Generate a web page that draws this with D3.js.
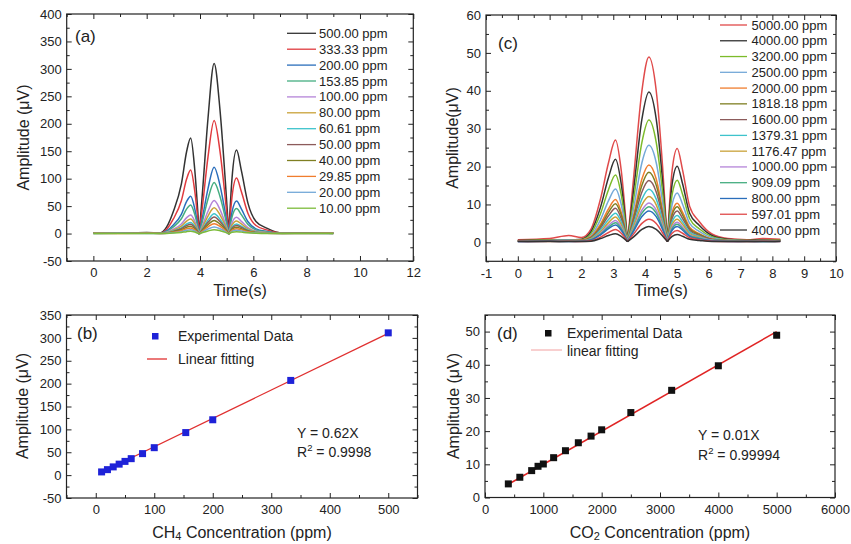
<!DOCTYPE html>
<html>
<head>
<meta charset="utf-8">
<script src="https://cdn.jsdelivr.net/npm/d3@7"></script>
<style>
  body { margin: 0; background: #fff; }
  svg { font-family: "Liberation Sans", Arial, sans-serif; }
</style>
</head>
<body>
<script>
// ---------- (a) CH4 time traces ----------
const TIME_A = [0, 1, 2, 2.5, 2.75, 3.0, 3.3, 3.5, 3.65, 3.8, 3.97, 4.1, 4.3, 4.53, 4.75, 4.95, 5.08, 5.2, 5.37, 5.55, 5.8, 6.1, 6.5, 7.1, 8, 9];
const NULLS_A = [3.97, 5.08];
const LABELS_A = ["500.00 ppm", "333.33 ppm", "200.00 ppm", "153.85 ppm", "100.00 ppm", "80.00 ppm",
                  "60.61 ppm", "50.00 ppm", "40.00 ppm", "29.85 ppm", "20.00 ppm", "10.00 ppm"];
const COLORS_A = ["#333333", "#e03a3e", "#2a6ebb", "#45ad80", "#b484d8", "#c9a238",
                  "#3ec3cc", "#8c5b5b", "#7f7f22", "#f07d2e", "#74a9d8", "#7cbb3a"];
const TRACE_A = [
  [1, 1, 2, 1, 12, 40, 90, 150, 174, 118, -1, 80, 210, 310, 225, 95, -1, 100, 152, 115, 55, 22, 10, 1, 1, 1],
  [1, 1.5, 1.5, 1, 8, 26.6, 59.9, 99.8, 115.7, 78.5, -1, 53.2, 139.7, 206, 149.6, 63.2, -1, 66.5, 101.1, 76.5, 36.6, 14.6, 6.7, 1, 0.5, 1],
  [0.5, 1, 1, 0.5, 4.7, 15.6, 35.1, 58.5, 67.9, 46, -1, 31.2, 81.9, 121, 87.8, 37.1, -1, 39, 59.3, 44.9, 21.5, 8.6, 3.9, 0.5, 1, 0.5],
  [0.8, 0.5, 1, 0.8, 3.6, 12, 27, 45, 52.2, 35.4, -1, 24, 63, 93, 67.5, 28.5, -1, 30, 45.6, 34.5, 16.5, 6.6, 3, 0.5, 0.8, 0.5],
  [0.5, 0.8, 0.6, 0.5, 2.3, 7.8, 17.5, 29.1, 33.8, 22.9, -1, 15.5, 40.7, 60, 43.7, 18.4, -1, 19.4, 29.5, 22.3, 10.7, 4.3, 1.9, 0.5, 0.6, 0.5],
  [0.6, 0.5, 0.8, 0.5, 1.8, 6.1, 13.7, 22.8, 26.4, 17.9, -1, 12.2, 31.9, 47, 34.2, 14.4, -1, 15.2, 23.1, 17.5, 8.4, 3.3, 1.5, 0.4, 0.6, 0.4],
  [0.4, 0.6, 0.5, 0.4, 1.4, 4.6, 10.4, 17.4, 20.2, 13.7, -1, 9.3, 24.4, 36, 26.1, 11, -1, 11.6, 17.6, 13.3, 6.4, 2.6, 1.2, 0.4, 0.5, 0.4],
  [0.5, 0.4, 0.6, 0.4, 1.2, 3.9, 8.7, 14.6, 16.9, 11.4, -1, 7.8, 20.4, 30, 21.8, 9.2, -1, 9.7, 14.7, 11.2, 5.3, 2.1, 1, 0.4, 0.5, 0.3],
  [0.3, 0.5, 0.4, 0.3, 0.9, 3.1, 6.9, 11.6, 13.4, 9.1, -1, 6.2, 16.2, 24, 17.3, 7.3, -1, 7.7, 11.7, 8.9, 4.2, 1.7, 0.8, 0.3, 0.4, 0.3],
  [0.4, 0.3, 0.5, 0.3, 0.7, 2.3, 5.2, 8.7, 10.1, 6.8, -1, 4.6, 12.2, 18, 13.1, 5.5, -1, 5.8, 8.8, 6.7, 3.2, 1.3, 0.6, 0.3, 0.3, 0.4],
  [0.3, 0.4, 0.3, 0.2, 0.5, 1.6, 3.5, 5.9, 6.8, 4.6, -1, 3.1, 8.2, 12, 8.8, 3.7, -1, 3.9, 5.9, 4.5, 2.1, 0.9, 0.4, 0.3, 0.2, 0.3],
  [0.2, 0.3, 0.2, 0.2, 0.3, 0.9, 2.1, 3.5, 4, 2.7, -0.5, 1.8, 4.8, 7, 5.2, 2.2, -0.5, 2.3, 3.5, 2.6, 1.3, 0.5, 0.2, 0.2, 0.3, 0.2]
];

// ---------- (c) CO2 time traces ----------
const TIME_C = [0, 1, 1.6, 2, 2.3, 2.6, 2.85, 3.07, 3.25, 3.45, 3.65, 3.9, 4.12, 4.35, 4.55, 4.7, 4.85, 5.01, 5.18, 5.4, 5.7, 6.1, 6.6, 7.2, 7.7, 8.25];
const NULLS_C = [3.45, 4.7];
const LABELS_C = ["5000.00 ppm", "4000.00 ppm", "3200.00 ppm", "2500.00 ppm", "2000.00 ppm", "1818.18 ppm", "1600.00 ppm",
                  "1379.31 ppm", "1176.47 ppm", "1000.00 ppm", "909.09 ppm", "800.00 ppm", "597.01 ppm", "400.00 ppm"];
const COLORS_C = ["#e04a4a", "#333333", "#7cbb2a", "#74a9d8", "#f07d2e", "#7f7f22", "#8c5b5b",
                  "#3ec3cc", "#c9a238", "#b484d8", "#45ad80", "#2a6ebb", "#e04a4a", "#333333"];
const TRACE_C = [
  [0.7, 1.0, 1.8, 1.3, 3.5, 11.5, 21, 27, 19, 0.2, 18, 40, 48.9, 40, 20, 0.2, 19, 24.8, 19, 9.5, 5.5, 2.2, 1.0, 0.7, 1.0, 0.8],
  [0.5, 0.7, 0.6, 0.8, 2.8, 9.3, 17.1, 21.9, 15.4, 0.2, 14.6, 32.5, 39.7, 32.5, 16.2, 0.2, 15.4, 20.1, 15.4, 7.7, 4.5, 1.8, 0.8, 0.5, 0.7, 0.6],
  [0.4, 0.6, 0.5, 0.7, 2.3, 7.6, 13.9, 17.8, 12.6, 0.2, 11.9, 26.4, 32.3, 26.4, 13.2, 0.2, 12.6, 16.4, 12.6, 6.3, 3.6, 1.5, 0.7, 0.5, 0.5, 0.6],
  [0.3, 0.5, 0.6, 0.6, 1.8, 6.0, 11.0, 14.1, 10.0, 0.2, 9.4, 21.0, 25.6, 21.0, 10.5, 0.2, 10.0, 13.0, 10.0, 5.0, 2.9, 1.2, 0.6, 0.4, 0.5, 0.4],
  [0.4, 0.5, 0.4, 0.6, 1.5, 4.8, 8.8, 11.3, 7.9, 0.2, 7.5, 16.7, 20.4, 16.7, 8.3, 0.2, 7.9, 10.3, 7.9, 4.0, 2.3, 0.9, 0.5, 0.4, 0.5, 0.5],
  [0.3, 0.4, 0.5, 0.5, 1.3, 4.3, 7.9, 10.2, 7.2, 0.2, 6.8, 15.1, 18.5, 15.1, 7.6, 0.2, 7.2, 9.4, 7.2, 3.6, 2.1, 0.8, 0.5, 0.3, 0.4, 0.4],
  [0.4, 0.3, 0.4, 0.5, 1.2, 3.8, 7.0, 9.0, 6.3, 0.2, 6.0, 13.3, 16.3, 13.3, 6.7, 0.2, 6.3, 8.3, 6.3, 3.2, 1.8, 0.7, 0.4, 0.4, 0.3, 0.5],
  [0.3, 0.4, 0.3, 0.4, 1.0, 3.3, 6.0, 7.7, 5.4, 0.2, 5.1, 11.4, 14.0, 11.4, 5.7, 0.2, 5.4, 7.1, 5.4, 2.7, 1.6, 0.6, 0.4, 0.3, 0.4, 0.3],
  [0.3, 0.3, 0.4, 0.4, 0.9, 2.8, 5.2, 6.7, 4.7, 0.2, 4.4, 9.9, 12.1, 9.9, 4.9, 0.2, 4.7, 6.1, 4.7, 2.3, 1.4, 0.5, 0.3, 0.3, 0.3, 0.4],
  [0.2, 0.3, 0.3, 0.3, 0.7, 2.4, 4.5, 5.8, 4.0, 0.2, 3.8, 8.5, 10.4, 8.5, 4.3, 0.2, 4.0, 5.3, 4.0, 2.0, 1.2, 0.5, 0.3, 0.2, 0.3, 0.3],
  [0.3, 0.2, 0.3, 0.3, 0.7, 2.2, 4.0, 5.2, 3.6, 0.2, 3.5, 7.7, 9.4, 7.7, 3.8, 0.2, 3.6, 4.8, 3.6, 1.8, 1.1, 0.4, 0.3, 0.2, 0.2, 0.3],
  [0.2, 0.3, 0.2, 0.3, 0.6, 2.0, 3.6, 4.6, 3.2, 0.2, 3.1, 6.8, 8.3, 6.8, 3.4, 0.2, 3.2, 4.2, 3.2, 1.6, 0.9, 0.4, 0.2, 0.3, 0.2, 0.2],
  [0.3, 0.2, 0.3, 0.2, 0.4, 1.4, 2.6, 3.4, 2.4, 0.2, 2.3, 5.0, 6.1, 5.0, 2.5, 0.2, 2.4, 3.1, 2.4, 1.2, 0.7, 0.3, 0.2, 0.2, 0.3, 0.2],
  [0.2, 0.3, 0.2, 0.2, 0.3, 1.0, 1.8, 2.3, 1.6, 0.2, 1.5, 3.4, 4.2, 3.4, 1.7, 0.2, 1.6, 2.1, 1.6, 0.8, 0.5, 0.2, 0.2, 0.2, 0.2, 0.3]
];

// ---------- (b) CH4 calibration ----------
const CH4_CONC = [10, 20, 29.85, 40, 50, 60.61, 80, 100, 153.85, 200, 333.33, 500];
const CH4_AMP = [7, 12, 18, 24, 30, 36, 47, 60, 93, 121, 207, 311];
const CH4_FIT_X = [10, 500];
const CH4_FIT_Y = [6.2, 310];

// ---------- (d) CO2 calibration ----------
const CO2_CONC = [400, 597.01, 800, 909.09, 1000, 1176.47, 1379.31, 1600, 1818.18, 2000, 2500, 3200, 4000, 5000];
const CO2_AMP = [4.1, 6.1, 8.1, 9.4, 10.1, 12.0, 14.1, 16.5, 18.5, 20.4, 25.6, 32.3, 39.7, 48.9];
const CO2_FIT_X = [400, 5000];
const CO2_FIT_Y = [4.0, 50.0];

const INK = "#222";
const svg = d3.select("body").append("svg").attr("width", 851).attr("height", 544);

// frame with inward ticks on all four sides
function makePanel(box, xDom, yDom, t) {
  const x = d3.scaleLinear().domain(xDom).range([box.left, box.right]);
  const y = d3.scaleLinear().domain(yDom).range([box.bottom, box.top]);
  const sides = [
    {gen: d3.axisBottom, s: x, tr: `translate(0,${box.bottom})`, lab: t.xLab, maj: t.xMajor, min: t.xMinor, pad: 7},
    {gen: d3.axisTop, s: x, tr: `translate(0,${box.top})`, lab: null, maj: t.xMajor, min: t.xMinor, pad: 0},
    {gen: d3.axisLeft, s: y, tr: `translate(${box.left},0)`, lab: t.yLab, maj: t.yMajor, min: t.yMinor, pad: 5},
    {gen: d3.axisRight, s: y, tr: `translate(${box.right},0)`, lab: null, maj: t.yMajor, min: t.yMinor, pad: 0}
  ];
  sides.forEach(sd => {
    const fmt = d => (sd.lab && sd.lab.includes(d)) ? String(d) : "";
    svg.append("g").attr("transform", sd.tr)
      .call(sd.gen(sd.s).tickValues(sd.maj).tickSize(-5).tickPadding(sd.pad).tickFormat(fmt))
      .call(g => g.select(".domain").remove())
      .attr("font-family", null).attr("font-size", 13).attr("color", INK);
    svg.append("g").attr("transform", sd.tr)
      .call(sd.gen(sd.s).tickValues(sd.min).tickSize(-3).tickFormat(""))
      .call(g => g.select(".domain").remove())
      .attr("color", INK);
  });
  svg.append("rect")
    .attr("x", box.left).attr("y", box.top)
    .attr("width", box.right - box.left).attr("height", box.bottom - box.top)
    .attr("fill", "none").attr("stroke", INK).attr("stroke-width", 1.2);
  return {x, y};
}

function text(x, y, str, size, anchor, rotate) {
  const t = svg.append("text")
    .attr("x", x).attr("y", y)
    .attr("font-size", size)
    .attr("fill", INK)
    .attr("text-anchor", anchor || "start")
    .attr("dominant-baseline", "central")
    .text(str);
  if (rotate) t.attr("transform", `rotate(-90,${x},${y})`);
  return t;
}

// split a trace at its null points so the cusps stay sharp
function tracePath(line, times, vals, nulls) {
  const segs = [];
  let cur = [];
  times.forEach((tm, i) => {
    cur.push([tm, vals[i]]);
    if (nulls.includes(tm)) { segs.push(cur); cur = [[tm, vals[i]]]; }
  });
  segs.push(cur);
  return segs.map(s => line(s)).join("");
}

function traces(p, times, rows, colors, nulls) {
  const line = d3.line().x(d => p.x(d[0])).y(d => p.y(d[1])).curve(d3.curveMonotoneX);
  rows.forEach((vals, i) => {
    svg.append("path")
      .attr("d", tracePath(line, times, vals, nulls))
      .attr("fill", "none").attr("stroke", colors[i]).attr("stroke-width", 1.5)
      .attr("stroke-linejoin", "round");
  });
}

function legend(x0, x1, xt, y0, dy, labels, colors) {
  labels.forEach((lab, i) => {
    const yy = y0 + i * dy;
    svg.append("line").attr("x1", x0).attr("x2", x1).attr("y1", yy).attr("y2", yy)
      .attr("stroke", colors[i]).attr("stroke-width", 1.3);
    text(xt, yy, lab, 13);
  });
}

// ---------- panel (a) ----------
const pa = makePanel({left: 66.7, right: 413.3, top: 14, bottom: 261}, [-1, 12], [-50, 400], {
  xMajor: d3.range(0, 13, 2), xMinor: d3.range(-1, 12, 2), xLab: d3.range(0, 13, 2),
  yMajor: d3.range(-50, 401, 50), yMinor: d3.range(-25, 400, 50), yLab: d3.range(-50, 401, 50)
});
traces(pa, TIME_A, TRACE_A, COLORS_A, NULLS_A);
legend(287, 316, 319, 33.3, 15.9, LABELS_A, COLORS_A);
text(75, 36, "(a)", 17);
text(23, 137.5, "Amplitude (\u03bcV)", 16, "middle", true);
text(240, 290, "Time(s)", 16, "middle");

// ---------- panel (c) ----------
const pc = makePanel({left: 486, right: 836, top: 15, bottom: 261.3}, [-1, 10], [-5, 60], {
  xMajor: d3.range(-1, 11, 1), xMinor: d3.range(-0.5, 10, 1), xLab: d3.range(-1, 11, 1),
  yMajor: d3.range(0, 61, 10), yMinor: d3.range(-5, 60, 10), yLab: d3.range(0, 61, 10)
});
traces(pc, TIME_C, TRACE_C, COLORS_C, NULLS_C);
legend(720, 747, 751.5, 25, 15.77, LABELS_C, COLORS_C);
text(498, 43, "(c)", 17);
text(452, 138, "Amplitude(\u03bcV)", 16, "middle", true);
text(661, 290, "Time(s)", 16, "middle");

// ---------- panel (b) ----------
const pb = makePanel({left: 66.5, right: 417.5, top: 315, bottom: 498}, [-50, 550], [-50, 350], {
  xMajor: d3.range(0, 501, 100), xMinor: d3.range(-50, 551, 100), xLab: d3.range(0, 501, 100),
  yMajor: d3.range(-50, 351, 50), yMinor: d3.range(-25, 350, 50), yLab: d3.range(-50, 351, 50)
});
svg.append("path")
  .attr("d", d3.line().x(d => pb.x(d[0])).y(d => pb.y(d[1]))(CH4_FIT_X.map((v, i) => [v, CH4_FIT_Y[i]])))
  .attr("stroke", "#e03030").attr("stroke-width", 1.3).attr("fill", "none");
svg.selectAll(null).data(CH4_CONC).enter().append("rect")
  .attr("x", (d, i) => pb.x(d) - 3.5).attr("y", (d, i) => pb.y(CH4_AMP[i]) - 3.5)
  .attr("width", 7).attr("height", 7).attr("fill", "#1e22d8");
svg.append("rect").attr("x", 152).attr("y", 333).attr("width", 6.5).attr("height", 6.5).attr("fill", "#1e22d8");
text(178, 336, "Experimental Data", 14);
svg.append("line").attr("x1", 147).attr("x2", 167).attr("y1", 359).attr("y2", 359)
  .attr("stroke", "#e03030").attr("stroke-width", 1.3);
text(178, 359, "Linear fitting", 14);
text(297, 433, "Y = 0.62X", 14);
const r2b = text(297, 452, "R", 14);
r2b.append("tspan").attr("dy", -5).attr("font-size", 9.5).text("2");
r2b.append("tspan").attr("dy", 5).text(" = 0.9998");
text(77, 333, "(b)", 17);
text(22, 406, "Amplitude (\u03bcV)", 16, "middle", true);
const xb = text(242, 532, "CH", 16, "middle");
xb.append("tspan").attr("dy", 4).attr("font-size", 11).text("4");
xb.append("tspan").attr("dy", -4).text(" Concentration (ppm)");

// ---------- panel (d) ----------
const pd = makePanel({left: 485, right: 835, top: 315, bottom: 497.5}, [0, 6000], [0, 55], {
  xMajor: d3.range(0, 6001, 1000), xMinor: d3.range(500, 6000, 1000), xLab: d3.range(0, 6001, 1000),
  yMajor: d3.range(0, 51, 10), yMinor: d3.range(5, 56, 10), yLab: d3.range(0, 51, 10)
});
svg.append("path")
  .attr("d", d3.line().x(d => pd.x(d[0])).y(d => pd.y(d[1]))(CO2_FIT_X.map((v, i) => [v, CO2_FIT_Y[i]])))
  .attr("stroke", "#e02424").attr("stroke-width", 1.5).attr("fill", "none");
svg.selectAll(null).data(CO2_CONC).enter().append("rect")
  .attr("x", (d, i) => pd.x(d) - 3.5).attr("y", (d, i) => pd.y(CO2_AMP[i]) - 3.5)
  .attr("width", 7).attr("height", 7).attr("fill", "#111");
svg.append("rect").attr("x", 545).attr("y", 330).attr("width", 6.5).attr("height", 6.5).attr("fill", "#111");
text(567, 333, "Experimental Data", 14);
svg.append("line").attr("x1", 531).attr("x2", 562).attr("y1", 350).attr("y2", 350)
  .attr("stroke", "#f2a0a0").attr("stroke-width", 1);
text(567, 351, "linear fitting", 14);
text(698, 435, "Y = 0.01X", 14);
const r2d = text(698, 455, "R", 14);
r2d.append("tspan").attr("dy", -5).attr("font-size", 9.5).text("2");
r2d.append("tspan").attr("dy", 5).text(" = 0.99994");
text(497, 333, "(d)", 17);
text(453, 406, "Amplitude (\u03bcV)", 16, "middle", true);
const xd = text(660, 532, "CO", 16, "middle");
xd.append("tspan").attr("dy", 4).attr("font-size", 11).text("2");
xd.append("tspan").attr("dy", -4).text(" Concentration (ppm)");
</script>
</body>
</html>
